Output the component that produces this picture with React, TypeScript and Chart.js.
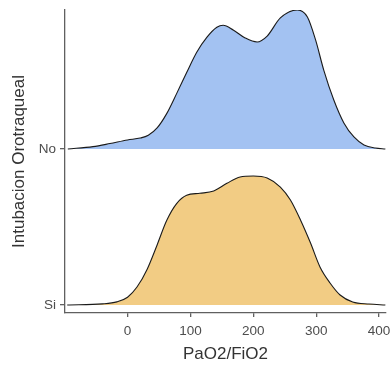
import React, { useEffect, useRef } from "react";
import { Chart, registerables } from "chart.js";

Chart.register(...registerables);

// Rows of the ridgeline (baseline value on the y scale)
const rowLabels = ["Si", "No"];
const rowBase = [0, 1];

// "No" density ridge (PaO2/FiO2 value, relative height in row units)
const noX = [-95, -55, -28, 0, 20, 33, 47, 62, 78, 94, 110, 126, 142, 152, 168, 187, 206, 222, 243, 270, 286, 299, 312, 328, 344, 360, 376, 394, 410];
const noDensity = [0, 0.015, 0.035, 0.058, 0.07, 0.088, 0.135, 0.225, 0.355, 0.49, 0.62, 0.715, 0.78, 0.793, 0.763, 0.712, 0.686, 0.724, 0.84, 0.891, 0.846, 0.699, 0.506, 0.314, 0.167, 0.077, 0.026, 0.006, 0];

// "Si" density ridge
const siX = [-96, -40, -17, 0, 15, 31, 47, 62, 78, 94, 115, 137, 158, 179, 200, 222, 243, 259, 275, 291, 306, 322, 338, 358, 384, 410];
const siDensity = [0, 0.007, 0.02, 0.05, 0.115, 0.228, 0.385, 0.54, 0.65, 0.703, 0.716, 0.731, 0.78, 0.821, 0.827, 0.814, 0.756, 0.673, 0.545, 0.397, 0.244, 0.141, 0.064, 0.019, 0.006, 0];

const xTicks = [0, 100, 200, 300, 400];

const xTitle = "PaO2/FiO2";
const yTitle = "Intubacion Orotraqueal";

export default function App() {
  const ref = useRef<HTMLCanvasElement>(null);

  useEffect(() => {
    if (!ref.current) return;
    const font = "'Liberation Sans', Arial, Helvetica, sans-serif";
    const axisColor = "#606060";
    const chart = new Chart(ref.current, {
      type: "line",
      data: {
        datasets: [
          {
            label: "No",
            data: noX.map((x, i) => ({ x, y: rowBase[1] + noDensity[i] })),
            fill: { value: rowBase[1] },
            backgroundColor: "#A3C2F2",
            borderColor: "#1a1a1a",
            borderWidth: 1.1,
            pointRadius: 0,
            cubicInterpolationMode: "monotone",
          },
          {
            label: "Si",
            data: siX.map((x, i) => ({ x, y: rowBase[0] + siDensity[i] })),
            fill: { value: rowBase[0] },
            backgroundColor: "#F2CC84",
            borderColor: "#1a1a1a",
            borderWidth: 1.1,
            pointRadius: 0,
            cubicInterpolationMode: "monotone",
          },
        ],
      },
      options: {
        animation: false,
        responsive: true,
        maintainAspectRatio: false,
        layout: { padding: { top: 10, right: 5, left: 0, bottom: 0 } },
        plugins: { legend: { display: false }, tooltip: { enabled: false } },
        scales: {
          x: {
            type: "linear",
            min: -99.5,
            max: 411,
            afterBuildTicks: (s: any) => {
              s.ticks = xTicks.map((v) => ({ value: v }));
            },
            afterFit: (s: any) => {
              s.height = 54;
              s.paddingLeft = 0;
              s.paddingRight = 0;
            },
            grid: { drawOnChartArea: false, drawTicks: true, tickLength: 4, color: axisColor, lineWidth: 1.3 },
            border: { display: true, color: axisColor, width: 1.3 },
            ticks: {
              color: "#4d4d4d",
              font: { family: font, size: 13.5 },
              padding: 6,
              maxRotation: 0,
              callback: (v: any) => String(v),
            },
            title: {
              display: true,
              text: xTitle,
              color: "#333333",
              font: { family: font, size: 17 },
              padding: { top: 0, bottom: 2 },
            },
          },
          y: {
            type: "linear",
            min: -0.0513,
            max: 1.891,
            afterBuildTicks: (s: any) => {
              s.ticks = rowBase.map((v) => ({ value: v }));
            },
            afterFit: (s: any) => {
              s.width = 65;
              s.paddingTop = 0;
              s.paddingBottom = 0;
            },
            grid: { drawOnChartArea: false, drawTicks: true, tickLength: 5, color: axisColor, lineWidth: 1.3 },
            border: { display: true, color: axisColor, width: 1.3 },
            ticks: {
              color: "#4d4d4d",
              font: { family: font, size: 13.5 },
              padding: 4,
              callback: (v: any) => {
                const i = rowBase.indexOf(Number(v));
                return i >= 0 ? rowLabels[i] : "";
              },
            },
            title: {
              display: true,
              text: yTitle,
              color: "#333333",
              font: { family: font, size: 17 },
              padding: { top: 9, bottom: 0 },
            },
          },
        },
      },
    });
    return () => chart.destroy();
  }, []);

  return (
    <div style={{ position: "fixed", left: 0, top: 0, width: 391, height: 367, background: "#ffffff" }}>
      <canvas ref={ref} />
    </div>
  );
}
